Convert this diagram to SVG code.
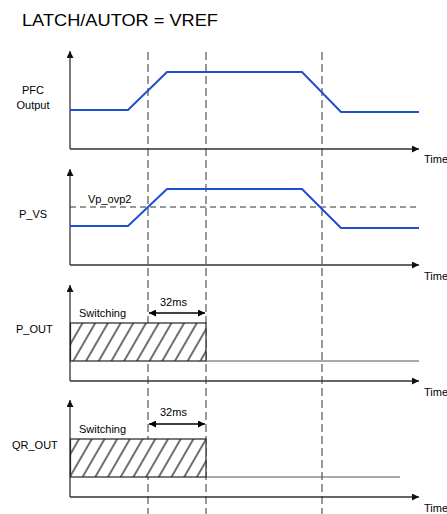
<svg xmlns="http://www.w3.org/2000/svg" width="447" height="514" viewBox="0 0 447 514">
<style>
text{font-family:"Liberation Sans",Arial,sans-serif;fill:#000}
.lbl{font-size:11px}
.axis{stroke:#333;stroke-width:1.3;fill:none}
.sig{stroke:#1f4fd1;stroke-width:2;fill:none;stroke-linejoin:miter}
.vdash{stroke:#333;stroke-width:1;stroke-dasharray:8 4;fill:none}
.hdash{stroke:#333;stroke-width:1;stroke-dasharray:6 4;fill:none}
.base{stroke:#555;stroke-width:1.2;fill:none}
.box{fill:url(#hatch);stroke:#222;stroke-width:1.2}
.dim{stroke:#000;stroke-width:1.3;fill:none}
</style>
<defs>
<marker id="ah" viewBox="0 0 10 10" refX="10" refY="5" markerWidth="9" markerHeight="7" markerUnits="userSpaceOnUse" orient="auto">
<path d="M0,0 L10,5 L0,10 z" fill="#111"/>
</marker>
<marker id="dh" viewBox="0 0 10 10" refX="10" refY="5" markerWidth="8" markerHeight="7" markerUnits="userSpaceOnUse" orient="auto-start-reverse">
<path d="M0,0 L10,5 L0,10 z" fill="#000"/>
</marker>
<pattern id="hatch" patternUnits="userSpaceOnUse" width="11" height="11" patternTransform="rotate(30)">
<rect width="11" height="11" fill="#fff"/>
<line x1="2" y1="0" x2="2" y2="11" stroke="#222" stroke-width="1.3"/>
</pattern>
</defs>
<rect width="447" height="514" fill="#fff"/>
<text x="22" y="26" font-size="17" textLength="196" lengthAdjust="spacingAndGlyphs">LATCH/AUTOR = VREF</text>

<g id="connectors">
<line class="vdash" x1="148" y1="52" x2="148" y2="514"/>
<line class="vdash" x1="206" y1="52" x2="206" y2="514"/>
<line class="vdash" x1="322" y1="52" x2="322" y2="514"/>
</g>

<g id="panel-pfc">
<line class="axis" x1="70" y1="149" x2="70" y2="51" marker-end="url(#ah)"/>
<line class="axis" x1="70" y1="149" x2="419" y2="149" marker-end="url(#ah)"/>
<polyline class="sig" points="70,110 128,110 167,72 302,72 341,112 419,112"/>
<text class="lbl" x="33" y="94" text-anchor="middle">PFC</text>
<text class="lbl" x="33" y="109" text-anchor="middle">Output</text>
<text class="lbl" x="424" y="163">Time</text>
</g>

<g id="panel-pvs">
<line class="axis" x1="70" y1="265" x2="70" y2="169" marker-end="url(#ah)"/>
<line class="axis" x1="70" y1="265" x2="419" y2="265" marker-end="url(#ah)"/>
<line class="hdash" x1="70" y1="207" x2="419" y2="207"/>
<polyline class="sig" points="70,226 128,226 167,189 302,189 341,228 419,228"/>
<text class="lbl" x="88" y="203">Vp_ovp2</text>
<text class="lbl" x="19" y="218">P_VS</text>
<text class="lbl" x="424" y="280">Time</text>
</g>

<g id="panel-pout">
<line class="axis" x1="70" y1="381" x2="70" y2="285" marker-end="url(#ah)"/>
<line class="axis" x1="70" y1="381" x2="419" y2="381" marker-end="url(#ah)"/>
<rect class="box" x="70.5" y="323" width="135.5" height="38"/>
<line class="base" x1="206" y1="361" x2="419" y2="361"/>
<line class="dim" x1="149" y1="313" x2="205" y2="313" marker-start="url(#dh)" marker-end="url(#dh)"/>
<text class="lbl" x="160" y="306">32ms</text>
<text class="lbl" x="79" y="317">Switching</text>
<text class="lbl" x="16" y="333">P_OUT</text>
<text class="lbl" x="424" y="396">Time</text>
</g>

<g id="panel-qrout">
<line class="axis" x1="70" y1="497" x2="70" y2="400" marker-end="url(#ah)"/>
<line class="axis" x1="70" y1="497" x2="419" y2="497" marker-end="url(#ah)"/>
<rect class="box" x="70.5" y="439" width="135.5" height="38"/>
<line class="base" x1="206" y1="477" x2="400" y2="477"/>
<line class="dim" x1="149" y1="424" x2="205" y2="424" marker-start="url(#dh)" marker-end="url(#dh)"/>
<text class="lbl" x="160" y="416">32ms</text>
<text class="lbl" x="79" y="433">Switching</text>
<text class="lbl" x="12" y="449">QR_OUT</text>
<text class="lbl" x="424" y="512">Time</text>
</g>
</svg>
